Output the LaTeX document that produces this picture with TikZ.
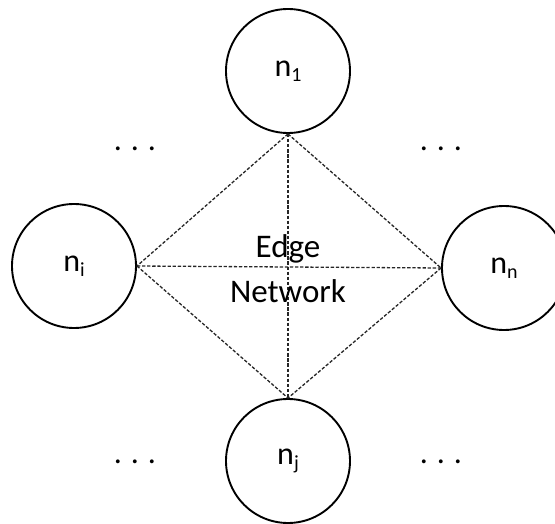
\documentclass[tikz,border=0pt]{standalone}
\usepackage{fontspec}
\setmainfont{Carlito}
% label with a lowered, smaller index
\newcommand{\nodelabel}[2]{#1\raisebox{-5pt}{\fontsize{20}{20}\selectfont #2}}
\begin{document}
\begin{tikzpicture}[x=1pt,y=-1pt,
  peer/.style={circle,draw=black,line width=1.9pt,minimum size=124pt,inner sep=0pt,
    font=\fontsize{32}{36}\selectfont},
  link/.style={draw=black!85,line width=1.3pt,dash pattern=on 3.3pt off 1.8pt},
  ellipsis/.style={font=\fontsize{32}{36}\selectfont,inner sep=0pt},
  caption/.style={align=center,inner sep=0pt,font=\fontsize{33}{45}\selectfont}]
  \useasboundingbox (0,0) rectangle (555,524);
  \clip (0,0) rectangle (555,524);

  % the four peers
  \node[peer] (n1) at (288,71)  {\nodelabel{n}{1}};
  \node[peer] (ni) at (74,266)  {\nodelabel{n}{i}};
  \node[peer] (nn) at (504,268) {\nodelabel{n}{n}};
  \node[peer] (nj) at (288,461) {\nodelabel{n}{j}};

  % dashed mesh between the peers
  \draw[link] (n1.south) -- (ni.east);
  \draw[link] (n1.south) -- (nn.west);
  \draw[link] (ni.east) -- (nj.north);
  \draw[link] (nn.west) -- (nj.north);
  \draw[link] (ni.east) -- (nn.west);
  \draw[link] (n1.south) -- (nj.north);

  % centre caption
  \node[caption] (net) at (288,269) {Edge\\Network};

  % ellipses for the omitted peers
  \node[ellipsis] (d1) at (135,149) {.\hspace{9pt}.\hspace{9pt}.};
  \node[ellipsis] (d2) at (441,149) {.\hspace{9pt}.\hspace{9pt}.};
  \node[ellipsis] (d3) at (135,462) {.\hspace{9pt}.\hspace{9pt}.};
  \node[ellipsis] (d4) at (441,462) {.\hspace{9pt}.\hspace{9pt}.};
\end{tikzpicture}
\end{document}
